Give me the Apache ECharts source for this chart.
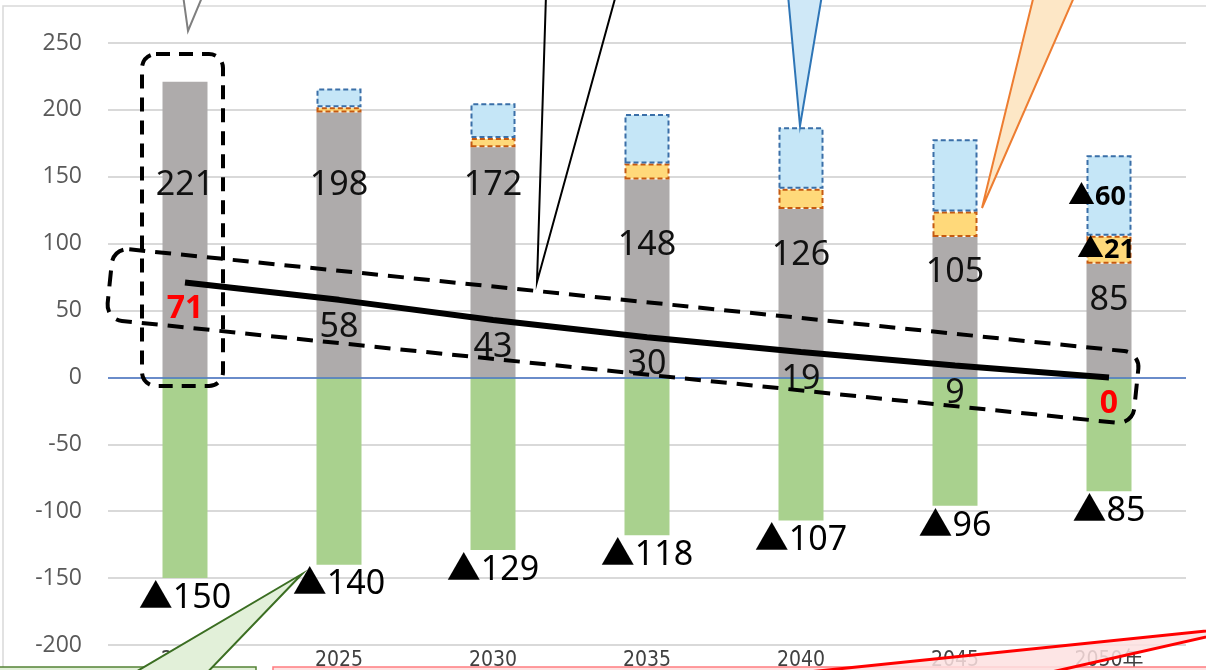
<!DOCTYPE html>
<html><head><meta charset="utf-8">
<script src="https://cdn.jsdelivr.net/npm/echarts@6/dist/echarts.min.js"></script>
<style>html,body{margin:0;padding:0;background:#fff}#c{width:1206px;height:670px}</style>
</head><body><div id="c"></div>
<script>
const categories = ['2020','2025','2030','2035','2040','2045','2050年'];
const grayValues = [221, 198, 172, 148, 126, 105, 85];
const yellowValues = [null, 4, 7, 12, 15, 19, 21];
const blueValues = [null, 14, 26, 37, 46, 54, 60];
const greenValues = [-150, -140, -129, -118, -107, -96, -85];
const lineValues = [71, 58, 43, 30, 19, 9, 0];
const yMin = -200, yMax = 250, yInterval = 50;

// label styling (not data)
const grayLabelShift = [-44, -60, -77, -33, -38, -35, -20];
const numFont = 'Noto Sans, Open Sans, Noto Sans CJK JP, sans-serif';
const triFont = 'Noto Sans, Noto Sans CJK JP, sans-serif';

const chart = echarts.init(document.getElementById('c'), null, {renderer: 'canvas'});

const grayData = grayValues.map((v, i) => ({
  value: v,
  label: {offset: [0, grayLabelShift[i]]}
}));
const lastIdx = categories.length - 1;
const yellowData = yellowValues.map((v, i) => ({
  value: v == null ? '-' : v,
  label: {show: i === lastIdx, offset: [-3, 1]}
}));
const blueData = blueValues.map((v, i) => ({
  value: v == null ? '-' : v,
  label: {show: i === lastIdx, offset: [-12, 2]}
}));
const lineData = lineValues.map((v, i) => {
  const special = (i === 0 || i === lastIdx);
  return {
    value: v,
    label: special ? {color: '#ff0000', fontWeight: 'bold', fontSize: 32} : {}
  };
});

const option = {
  animation: false,
  backgroundColor: '#ffffff',
  grid: {left: 108, right: 20, top: 43, bottom: 25, containLabel: false, outerBoundsMode: 'none'},
  xAxis: {
    type: 'category',
    data: categories,
    axisLine: {show: false},
    axisTick: {show: false},
    axisLabel: {
      color: '#404040', fontSize: 21, margin: 5,
      fontFamily: 'Liberation Sans Narrow, DejaVu Sans Condensed, Noto Sans CJK JP, sans-serif'
    }
  },
  yAxis: {
    type: 'value',
    min: yMin, max: yMax, interval: yInterval,
    axisLine: {show: false},
    axisTick: {show: false},
    axisLabel: {color: '#595959', fontSize: 23, margin: 26, fontFamily: 'Open Sans, Noto Sans, sans-serif'},
    splitLine: {lineStyle: {color: '#d9d9d9', width: 2}}
  },
  series: [
    {
      name: 'gray', type: 'bar', stack: 'total', barWidth: 45,
      data: grayData,
      itemStyle: {color: '#aeabab'},
      label: {show: true, position: 'inside', color: '#111', fontSize: 34, fontFamily: numFont},
      z: 2
    },
    {
      name: 'yellow', type: 'bar', stack: 'total', barWidth: 45,
      data: yellowData,
      itemStyle: {color: '#ffd97a', borderColor: '#c55a11', borderWidth: 2, borderType: [5, 3]},
      label: {show: false, position: 'inside', color: '#000', fontSize: 27, fontWeight: 'bold',
        fontFamily: triFont, formatter: p => '▲' + p.value},
      z: 2
    },
    {
      name: 'blue', type: 'bar', stack: 'total', barWidth: 45,
      data: blueData,
      itemStyle: {color: '#c5e6f7', borderColor: '#3a6fa8', borderWidth: 2, borderType: [5, 3]},
      label: {show: false, position: 'inside', color: '#000', fontSize: 27, fontWeight: 'bold',
        fontFamily: triFont, formatter: p => '▲' + p.value},
      z: 2
    },
    {
      name: 'green', type: 'bar', stack: 'total', barWidth: 45,
      data: greenValues,
      itemStyle: {color: '#a9d18e'},
      label: {show: true, position: 'bottom', distance: 3, color: '#000', fontSize: 34,
        fontFamily: triFont, formatter: p => '▲' + Math.abs(p.value)},
      markLine: {
        silent: true, symbol: 'none', label: {show: false},
        lineStyle: {color: '#4472c4', width: 1.5, type: 'solid', opacity: 1},
        emphasis: {disabled: true},
        data: [{yAxis: 0}]
      },
      z: 3
    },
    {
      name: 'line', type: 'line', data: lineData,
      symbol: 'circle', symbolSize: 1, showSymbol: true,
      itemStyle: {color: 'rgba(0,0,0,0)'},
      lineStyle: {color: '#000', width: 6},
      label: {show: true, position: 'bottom', distance: 10, color: '#111', fontSize: 34, fontFamily: numFont},
      z: 5
    }
  ],
  graphic: [
    // outer chart border
    {type: 'polyline', z: 100, silent: true,
      shape: {points: [[3, 680], [3, 6], [1220, 6]]},
      style: {stroke: '#d9d9d9', lineWidth: 1.5, fill: null}},
    // dashed box around first bar
    {type: 'rect', z: 110, silent: true,
      shape: {x: 142, y: 54, width: 81, height: 332, r: 14},
      style: {fill: null, stroke: '#000', lineWidth: 4, lineDash: [14, 9]}},
    // dashed band around line
    {type: 'rect', z: 110, silent: true, x: 623, y: 336, rotation: -0.102,
      shape: {x: -516, y: -36, width: 1032, height: 72, r: 16},
      style: {fill: null, stroke: '#000', lineWidth: 4, lineDash: [16, 10]}},
    // gray callout tip
    {type: 'polygon', z: 120, silent: true,
      shape: {points: [[183, -5], [203, -5], [188, 31]]},
      style: {fill: '#ffffff', stroke: '#7f7f7f', lineWidth: 2}},
    // black callout tip
    {type: 'polygon', z: 120, silent: true,
      shape: {points: [[546, -5], [616, -5], [537, 282]]},
      style: {fill: null, stroke: '#000', lineWidth: 2}},
    // blue callout tip
    {type: 'polygon', z: 120, silent: true,
      shape: {points: [[788, -5], [822, -5], [800, 126]]},
      style: {fill: '#cfe8f7', stroke: '#2e75b6', lineWidth: 2}},
    // orange callout tip
    {type: 'polygon', z: 120, silent: true,
      shape: {points: [[1034, -5], [1075, -5], [982, 208]]},
      style: {fill: '#fde7c6', stroke: '#ed7d31', lineWidth: 2}},
    // green callout box + tip
    {type: 'rect', z: 120, silent: true,
      shape: {x: -5, y: 667, width: 261, height: 20},
      style: {fill: '#e2f0d9', stroke: '#548235', lineWidth: 1.5}},
    {type: 'polygon', z: 121, silent: true,
      shape: {points: [[302, 574], [122, 680], [200, 680]]},
      style: {fill: '#e2f0d9', stroke: '#3b6e22', lineWidth: 2}},
    // red callout box + tip
    {type: 'rect', z: 120, silent: true,
      shape: {x: 273, y: 667, width: 1000, height: 20},
      style: {fill: '#fde4e4', stroke: '#ff7c80', lineWidth: 1.5}},
    {type: 'polygon', z: 121, silent: true,
      shape: {points: [[1255, 626], [750, 678], [1025, 678]]},
      style: {fill: 'rgba(253,225,225,0.85)', stroke: '#ff0000', lineWidth: 3}}
  ]
};
chart.setOption(option);
</script>
</body></html>
